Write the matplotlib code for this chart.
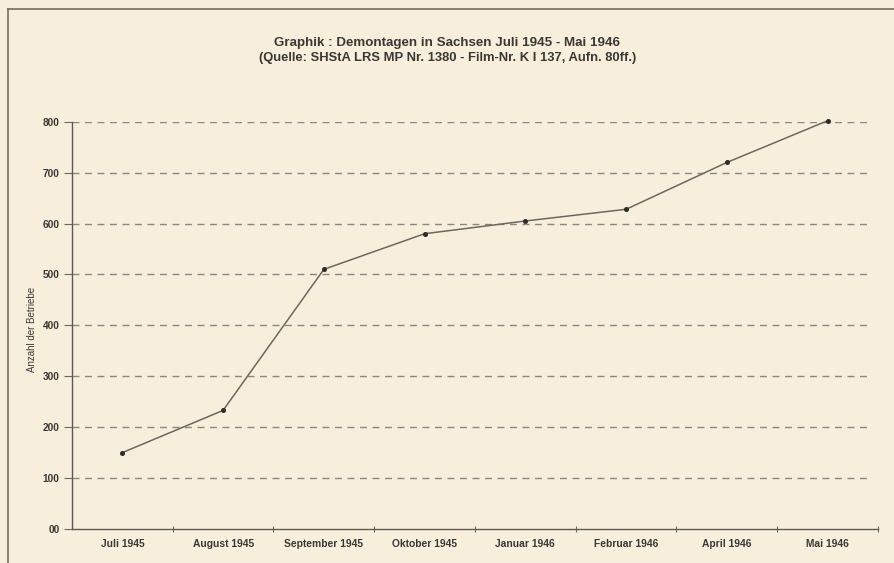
import matplotlib.pyplot as plt
from matplotlib.lines import Line2D

# Demontagen in Sachsen, Juli 1945 - Mai 1946
months = ["Juli 1945", "August 1945", "September 1945", "Oktober 1945",
          "Januar 1946", "Februar 1946", "April 1946", "Mai 1946"]
betriebe = [150, 233, 510, 580, 605, 628, 720, 802]
y_ticks = [0, 100, 200, 300, 400, 500, 600, 700, 800]
y_tick_labels = ["00", "100", "200", "300", "400", "500", "600", "700", "800"]

title_1 = "Graphik : Demontagen in Sachsen Juli 1945 - Mai 1946"
title_2 = "(Quelle: SHStA LRS MP Nr. 1380 - Film-Nr. K I 137, Aufn. 80ff.)"
y_label = "Anzahl der Betriebe"

paper = "#f7efdc"
ink = "#3b3834"

plt.rcParams["font.family"] = ["Liberation Sans", "DejaVu Sans"]

fig = plt.figure(figsize=(8.95, 5.63), dpi=100, facecolor=paper)
ax = fig.add_axes([0.0804, 0.0604, 0.9006, 0.7234])
ax.set_facecolor(paper)

x = list(range(len(months)))

ax.set_ylim(0, 800)
ax.set_xlim(-0.5, len(months) - 0.5)

# dashed grid lines, stopping a little before the right end of the axis
for v in y_ticks[1:]:
    ax.plot([-0.5, len(months) - 0.58], [v, v], color="#8c867e",
            linewidth=1.0, linestyle=(0, (5, 4)), zorder=1)

ax.plot(x, betriebe, color="#6e675d", linewidth=1.1, marker="o",
        markersize=2.6, markerfacecolor="#2f2b27", markeredgecolor="#2f2b27",
        zorder=3, clip_on=False)

ax.set_yticks(y_ticks)
ax.set_yticklabels(y_tick_labels, fontsize=7.3, fontweight="bold", color=ink)
ax.set_xticks(x)
ax.set_xticklabels(months, fontsize=7.4, fontweight="bold", color=ink)
ax.set_xticks([i - 0.5 for i in range(1, len(months) + 1)], minor=True)

ax.tick_params(axis="y", direction="out", length=6, width=0.8, color="#6e675d", pad=3)
ax.tick_params(axis="x", which="major", length=0, pad=7)
ax.tick_params(axis="x", which="minor", direction="inout", length=4, width=0.8,
               color="#6e675d")

for side in ["top", "right"]:
    ax.spines[side].set_visible(False)
for side in ["left", "bottom"]:
    ax.spines[side].set_color("#5e5850")
    ax.spines[side].set_linewidth(1.0)

ax.set_ylabel(y_label, fontsize=7, color=ink)
ax.yaxis.set_label_coords(-0.043, 0.49)

fig.text(0.5, 1 - 43 / 563, title_1, ha="center", va="center",
         fontsize=9.6, fontweight="bold", color=ink)
fig.text(0.5, 1 - 58 / 563, title_2, ha="center", va="center",
         fontsize=9.4, fontweight="bold", color=ink)

# frame of the scanned page
frame_color = "#7a6b5c"
fig.add_artist(Line2D([8 / 895, 8 / 895], [0, 1 - 8.5 / 563],
                      transform=fig.transFigure, color=frame_color, linewidth=1.2))
fig.add_artist(Line2D([8 / 895, 1], [1 - 8.5 / 563, 1 - 8.5 / 563],
                      transform=fig.transFigure, color=frame_color, linewidth=1.2))

fig.savefig("out.png", dpi=100, facecolor=paper)
